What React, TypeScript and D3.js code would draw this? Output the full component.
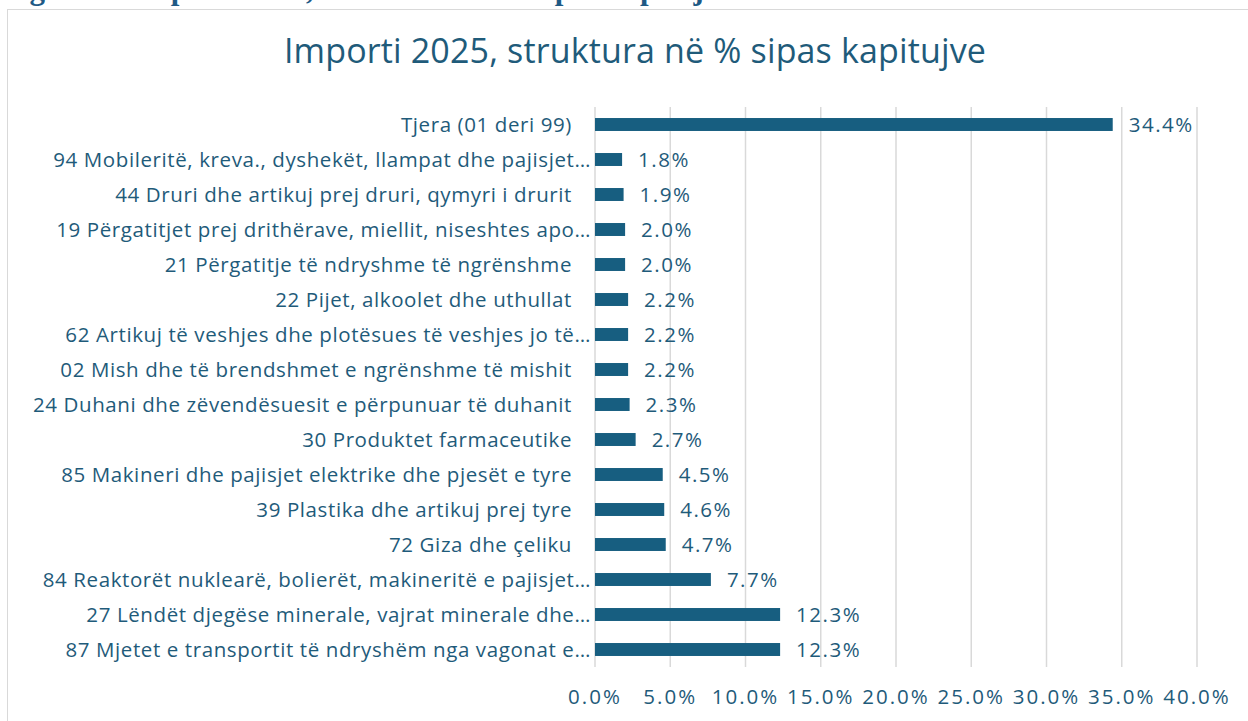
import React from "react";
import * as d3 from "d3";

const categories = [
  "Tjera (01 deri 99)",
  "94 Mobileritë, kreva., dyshekët, llampat dhe pajisjet…",
  "44 Druri dhe artikuj prej druri, qymyri i drurit",
  "19 Përgatitjet prej drithërave, miellit, niseshtes apo…",
  "21 Përgatitje të ndryshme të ngrënshme",
  "22 Pijet, alkoolet dhe uthullat",
  "62 Artikuj të veshjes dhe plotësues të veshjes jo të…",
  "02 Mish dhe të brendshmet e ngrënshme të mishit",
  "24 Duhani dhe zëvendësuesit e përpunuar të duhanit",
  "30 Produktet farmaceutike",
  "85 Makineri dhe pajisjet elektrike dhe pjesët e tyre",
  "39 Plastika dhe artikuj prej tyre",
  "72 Giza dhe çeliku",
  "84 Reaktorët nuklearë, bolierët, makineritë e pajisjet…",
  "27 Lëndët djegëse minerale, vajrat minerale dhe…",
  "87 Mjetet e transportit të ndryshëm nga vagonat e…",
];
const values = [34.4, 1.8, 1.9, 2.0, 2.0, 2.2, 2.2, 2.2, 2.3, 2.7, 4.5, 4.6, 4.7, 7.7, 12.3, 12.3];
const ticks = [0, 5, 10, 15, 20, 25, 30, 35, 40];
const title = "Importi 2025, struktura në % sipas kapitujve";
const figCaption = "Figura 3: Importi 2025, struktura në % sipas kapitujve";

export default function App() {
  const W = 1248, H = 721;
  const x = d3.scaleLinear().domain([0, 40]).range([595, 1197]);
  const y = d3.scaleBand().domain(categories).range([107, 667]).paddingInner(0.63).paddingOuter(0.315);
  const color = "#175E80";
  const textColor = "#1F5B7A";
  const font = "'Open Sans', sans-serif";
  return (
    <svg width={W} height={H} style={{ position: "absolute", left: 0, top: 0, background: "#fff" }}>
      <text x={2} y={-1} fontFamily="'Liberation Serif', serif" fontWeight="bold" fontSize={31} fill="#1F5A85">{figCaption}</text>
      <rect x={7.5} y={9.5} width={1300} height={800} fill="#fff" stroke="#d9d9d9" />
      <text x={635} y={63} textAnchor="middle" fontFamily={font} fontSize={34} letterSpacing={0.15} fill={textColor}>{title}</text>
      {ticks.map((t) => (
        <line key={t} x1={x(t)} x2={x(t)} y1={107} y2={667} stroke="#d9d9d9" strokeWidth={1.5} />
      ))}
      {categories.map((c, i) => {
        const truncated = c.endsWith("…");
        const cy = (y(c) as number) + y.bandwidth() / 2;
        return (
          <g key={c}>
            <rect x={x(0)} y={y(c)} width={x(values[i]) - x(0)} height={y.bandwidth()} fill={color} />
            <text x={truncated ? 591 : 572} y={cy} dy="0.36em" textAnchor="end" fontFamily={font} fontSize={20.5} letterSpacing={0.6} fill={textColor}>{c}</text>
            <text x={x(values[i]) + 16} y={cy} dy="0.36em" fontFamily={font} fontSize={20.5} letterSpacing={1.5} fill={textColor}>{values[i].toFixed(1)}%</text>
          </g>
        );
      })}
      {ticks.map((t) => (
        <text key={t} x={x(t)} y={697} dy="0.36em" textAnchor="middle" fontFamily={font} fontSize={20.5} letterSpacing={2} fill={textColor}>{t.toFixed(1)}%</text>
      ))}
    </svg>
  );
}
